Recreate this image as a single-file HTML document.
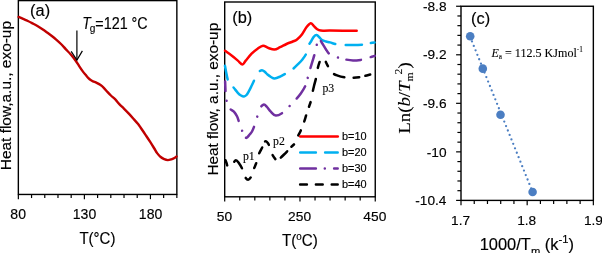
<!DOCTYPE html>
<html><head><meta charset="utf-8"><style>
html,body{margin:0;padding:0;background:#fff;}
svg{display:block;}
svg{will-change:transform}
</style></head><body>
<svg width="602" height="253" viewBox="0 0 602 253">
<rect width="602" height="253" fill="#fff"/>
<g fill="none" stroke="#000" stroke-width="1.40">
<rect x="18.35" y="0.60" width="158.50" height="193.85"/>
<g stroke-width="1.20"><line x1="18.35" y1="194.45" x2="18.35" y2="199.15"/><line x1="31.56" y1="194.45" x2="31.56" y2="198.05"/><line x1="44.77" y1="194.45" x2="44.77" y2="198.05"/><line x1="57.98" y1="194.45" x2="57.98" y2="198.05"/><line x1="71.18" y1="194.45" x2="71.18" y2="198.05"/><line x1="84.39" y1="194.45" x2="84.39" y2="199.15"/><line x1="97.60" y1="194.45" x2="97.60" y2="198.05"/><line x1="110.81" y1="194.45" x2="110.81" y2="198.05"/><line x1="124.02" y1="194.45" x2="124.02" y2="198.05"/><line x1="137.22" y1="194.45" x2="137.22" y2="198.05"/><line x1="150.43" y1="194.45" x2="150.43" y2="199.15"/><line x1="163.64" y1="194.45" x2="163.64" y2="198.05"/><line x1="176.85" y1="194.45" x2="176.85" y2="198.05"/></g>
</g>
<path d="M18.60,16.90 C19.35,17.23 21.55,18.22 23.10,18.90 C24.65,19.58 26.32,20.25 27.90,21.00 C29.48,21.75 31.02,22.57 32.60,23.40 C34.18,24.23 35.82,25.07 37.40,26.00 C38.98,26.93 40.55,27.97 42.10,29.00 C43.65,30.03 45.13,31.08 46.70,32.20 C48.27,33.32 49.92,34.47 51.50,35.70 C53.08,36.93 54.62,38.22 56.20,39.60 C57.78,40.98 59.42,42.42 61.00,44.00 C62.58,45.58 64.10,47.38 65.70,49.10 C67.30,50.82 68.97,52.40 70.60,54.30 C72.23,56.20 74.10,58.58 75.50,60.50 C76.90,62.42 77.82,64.03 79.00,65.80 C80.18,67.57 81.40,69.48 82.60,71.10 C83.80,72.72 85.23,74.33 86.20,75.50 C87.17,76.67 87.65,77.33 88.40,78.10 C89.15,78.87 89.92,79.57 90.70,80.10 C91.48,80.63 92.10,80.85 93.10,81.30 C94.10,81.75 95.52,82.22 96.70,82.80 C97.88,83.38 99.02,83.97 100.20,84.80 C101.38,85.63 102.60,86.62 103.80,87.80 C105.00,88.98 106.22,90.62 107.40,91.90 C108.58,93.18 109.58,94.25 110.90,95.50 C112.22,96.75 113.93,98.00 115.30,99.40 C116.67,100.80 117.67,102.37 119.10,103.90 C120.53,105.43 122.32,107.02 123.90,108.60 C125.48,110.18 127.02,111.72 128.60,113.40 C130.18,115.08 131.82,116.92 133.40,118.70 C134.98,120.48 136.88,122.60 138.10,124.10 C139.32,125.60 139.47,125.92 140.70,127.70 C141.93,129.48 143.92,132.43 145.50,134.80 C147.08,137.17 148.73,139.62 150.20,141.90 C151.67,144.18 153.15,146.63 154.30,148.50 C155.45,150.37 156.03,151.68 157.10,153.10 C158.17,154.52 159.52,155.98 160.70,157.00 C161.88,158.02 163.02,158.68 164.20,159.20 C165.38,159.72 166.60,160.08 167.80,160.10 C169.00,160.12 170.22,159.68 171.40,159.30 C172.58,158.92 174.03,158.28 174.90,157.80 C175.77,157.32 176.32,156.63 176.60,156.40" fill="none" stroke="#c00000" stroke-width="2.4" stroke-linejoin="round" stroke-linecap="round"/>
<g fill="none" stroke="#000" stroke-width="1.2"><line x1="76.9" y1="30.4" x2="76.9" y2="60"/><polyline points="71.2,51.3 76.9,60 82.4,50.9"/></g>
<g fill="none" stroke="#000" stroke-width="1.40">
<rect x="224.70" y="2.00" width="150.55" height="194.80"/>
<g stroke-width="1.20"><line x1="224.70" y1="196.80" x2="224.70" y2="201.50"/><line x1="239.75" y1="196.80" x2="239.75" y2="200.40"/><line x1="254.81" y1="196.80" x2="254.81" y2="200.40"/><line x1="269.87" y1="196.80" x2="269.87" y2="200.40"/><line x1="284.92" y1="196.80" x2="284.92" y2="200.40"/><line x1="299.98" y1="196.80" x2="299.98" y2="201.50"/><line x1="315.03" y1="196.80" x2="315.03" y2="200.40"/><line x1="330.08" y1="196.80" x2="330.08" y2="200.40"/><line x1="345.14" y1="196.80" x2="345.14" y2="200.40"/><line x1="360.19" y1="196.80" x2="360.19" y2="200.40"/><line x1="375.25" y1="196.80" x2="375.25" y2="201.50"/></g>
</g>
<g fill="none" stroke-width="2.5" stroke-linejoin="round" stroke-linecap="round">
<path d="M225.00,50.80 C226.15,51.62 229.77,54.07 231.90,55.70 C234.03,57.33 236.03,59.15 237.80,60.60 C239.57,62.05 241.18,64.40 242.50,64.40 C243.82,64.40 244.18,62.38 245.70,60.60 C247.22,58.82 249.62,55.67 251.60,53.70 C253.58,51.73 255.70,50.13 257.60,48.80 C259.50,47.47 261.18,45.83 263.00,45.70 C264.82,45.57 266.60,47.37 268.50,48.00 C270.40,48.63 272.47,49.63 274.40,49.50 C276.33,49.37 278.08,48.12 280.10,47.20 C282.12,46.28 284.38,44.95 286.50,44.00 C288.62,43.05 291.05,42.25 292.80,41.50 C294.55,40.75 295.48,40.67 297.00,39.50 C298.52,38.33 300.30,36.57 301.90,34.50 C303.50,32.43 305.13,28.97 306.60,27.10 C308.07,25.23 309.52,23.52 310.70,23.30 C311.88,23.08 312.67,24.85 313.70,25.80 C314.73,26.75 315.72,28.20 316.90,29.00 C318.08,29.80 318.62,30.33 320.80,30.60 C322.98,30.87 324.02,30.57 330.00,30.60 C335.98,30.63 352.25,30.77 356.70,30.80" stroke="#ff0000"/>
<path d="M224.80,64.80 C225.03,66.08 225.67,69.88 226.20,72.50 C226.73,75.12 227.28,78.50 228.00,80.50 C228.72,82.50 229.58,83.33 230.50,84.50 C231.42,85.67 232.28,86.12 233.50,87.50 C234.72,88.88 236.55,91.47 237.80,92.80 C239.05,94.13 239.97,94.88 241.00,95.50 C242.03,96.12 243.08,96.58 244.00,96.50 C244.92,96.42 245.68,95.88 246.50,95.00 C247.32,94.12 248.07,92.70 248.90,91.20 C249.73,89.70 250.58,87.90 251.50,86.00 C252.42,84.10 253.57,81.63 254.40,79.80 C255.23,77.97 255.78,76.32 256.50,75.00 C257.22,73.68 257.78,72.70 258.70,71.90 C259.62,71.10 260.95,70.18 262.00,70.20 C263.05,70.22 264.08,71.28 265.00,72.00 C265.92,72.72 266.50,73.67 267.50,74.50 C268.50,75.33 269.82,76.33 271.00,77.00 C272.18,77.67 273.08,78.57 274.60,78.50 C276.12,78.43 278.27,77.42 280.10,76.60 C281.93,75.78 284.12,74.45 285.60,73.60 C287.08,72.75 287.85,72.20 289.00,71.50 C290.15,70.80 291.00,70.62 292.50,69.40 C294.00,68.18 296.35,65.85 298.00,64.20 C299.65,62.55 301.02,61.28 302.40,59.50 C303.78,57.72 305.25,55.87 306.30,53.50 C307.35,51.13 307.92,47.30 308.70,45.30 C309.48,43.30 310.17,42.90 311.00,41.50 C311.83,40.10 312.77,37.98 313.70,36.90 C314.63,35.82 315.63,34.90 316.60,35.00 C317.57,35.10 318.60,36.67 319.50,37.50 C320.40,38.33 320.92,39.33 322.00,40.00 C323.08,40.67 324.67,41.10 326.00,41.50 C327.33,41.90 328.35,41.95 330.00,42.40 C331.65,42.85 334.23,43.80 335.90,44.20 C337.57,44.60 338.62,44.67 340.00,44.80 C341.38,44.93 342.03,44.97 344.20,45.00 C346.37,45.03 349.93,45.07 353.00,45.00 C356.07,44.93 360.43,44.77 362.60,44.60 C364.77,44.43 364.85,44.22 366.00,44.00 C367.15,43.78 367.97,43.58 369.50,43.30 C371.03,43.02 374.25,42.47 375.20,42.30" stroke="#00b0f0" stroke-dasharray="13.53 10.29 33.10 11.56 28.78 10.59 18.57 11.17 32.98 10.75 15.91 9.32 3.49 1001.25" stroke-dashoffset="-1.25"/>
<path d="M225.10,80.50 C225.13,81.42 225.22,84.02 225.30,86.00 C225.38,87.98 225.38,89.93 225.60,92.40 C225.82,94.87 226.20,98.70 226.60,100.80 C227.00,102.90 227.47,103.68 228.00,105.00 C228.53,106.32 228.82,107.60 229.80,108.70 C230.78,109.80 232.70,110.33 233.90,111.60 C235.10,112.87 236.13,114.53 237.00,116.30 C237.87,118.07 238.25,119.82 239.10,122.20 C239.95,124.58 241.20,128.25 242.10,130.60 C243.00,132.95 243.77,135.10 244.50,136.30 C245.23,137.50 245.63,138.10 246.50,137.80 C247.37,137.50 248.78,135.55 249.70,134.50 C250.62,133.45 251.22,132.95 252.00,131.50 C252.78,130.05 253.53,128.25 254.40,125.80 C255.27,123.35 256.18,119.82 257.20,116.80 C258.22,113.78 259.38,109.77 260.50,107.70 C261.62,105.63 262.82,104.52 263.90,104.40 C264.98,104.28 265.85,105.78 267.00,107.00 C268.15,108.22 269.33,110.27 270.80,111.70 C272.27,113.13 273.82,115.43 275.80,115.60 C277.78,115.77 280.45,114.25 282.70,112.70 C284.95,111.15 287.17,108.45 289.30,106.30 C291.43,104.15 293.58,101.93 295.50,99.80 C297.42,97.67 299.13,95.87 300.80,93.50 C302.47,91.13 304.37,88.13 305.50,85.60 C306.63,83.07 306.85,80.98 307.60,78.30 C308.35,75.62 308.85,73.47 310.00,69.50 C311.15,65.53 313.40,58.53 314.50,54.50 C315.60,50.47 315.93,47.63 316.60,45.30 C317.27,42.97 317.97,41.45 318.50,40.50 C319.03,39.55 319.22,39.18 319.80,39.60 C320.38,40.02 320.97,41.35 322.00,43.00 C323.03,44.65 324.80,47.70 326.00,49.50 C327.20,51.30 328.03,52.72 329.20,53.80 C330.37,54.88 331.62,55.40 333.00,56.00 C334.38,56.60 335.55,56.85 337.50,57.40 C339.45,57.95 342.12,58.78 344.70,59.30 C347.28,59.82 350.20,60.42 353.00,60.50 C355.80,60.58 359.50,60.05 361.50,59.80 C363.50,59.55 363.73,59.37 365.00,59.00 C366.27,58.63 367.40,58.15 369.10,57.60 C370.80,57.05 374.18,56.02 375.20,55.70" stroke="#7030a0" stroke-dasharray="9.41 9.71 0.01 9.82 14.46 10.17 0.01 8.31 13.99 10.68 0.01 10.93 26.71 10.46 0.01 10.22 14.94 8.86 0.01 10.36 13.16 10.69 0.01 8.31 14.57 10.38 0.01 8.69 14.43 10.43 3.89 1001.25" stroke-dashoffset="-1.25"/>
<path d="M225.10,159.20 C225.33,159.83 226.07,161.80 226.50,163.00 C226.93,164.20 227.07,165.68 227.70,166.40 C228.33,167.12 229.35,167.90 230.30,167.30 C231.25,166.70 232.47,163.97 233.40,162.80 C234.33,161.63 235.05,160.35 235.90,160.30 C236.75,160.25 237.42,161.02 238.50,162.50 C239.58,163.98 241.33,166.85 242.40,169.20 C243.47,171.55 243.95,174.83 244.90,176.60 C245.85,178.37 247.05,179.80 248.10,179.80 C249.15,179.80 250.28,178.32 251.20,176.60 C252.12,174.88 252.72,171.87 253.60,169.50 C254.48,167.13 255.67,164.87 256.50,162.40 C257.33,159.93 257.60,157.30 258.60,154.70 C259.60,152.10 261.62,148.83 262.50,146.80 C263.38,144.77 263.33,143.42 263.90,142.50 C264.47,141.58 265.25,141.22 265.90,141.30 C266.55,141.38 267.25,142.25 267.80,143.00 C268.35,143.75 268.53,144.02 269.20,145.80 C269.87,147.58 270.70,151.40 271.80,153.70 C272.90,156.00 274.80,158.55 275.80,159.60 C276.80,160.65 277.15,160.15 277.80,160.00 C278.45,159.85 278.75,159.53 279.70,158.70 C280.65,157.87 282.18,156.32 283.50,155.00 C284.82,153.68 286.48,152.00 287.60,150.80 C288.72,149.60 289.05,148.97 290.20,147.80 C291.35,146.63 293.28,145.60 294.50,143.80 C295.72,142.00 296.40,139.33 297.50,137.00 C298.60,134.67 300.07,132.12 301.10,129.80 C302.13,127.48 302.83,125.60 303.70,123.10 C304.57,120.60 305.52,117.25 306.30,114.80 C307.08,112.35 307.65,110.63 308.40,108.40 C309.15,106.17 310.15,103.88 310.80,101.40 C311.45,98.92 311.77,96.07 312.30,93.50 C312.83,90.93 313.38,88.55 314.00,86.00 C314.62,83.45 315.43,80.93 316.00,78.20 C316.57,75.47 316.75,72.43 317.40,69.60 C318.05,66.77 319.05,63.38 319.90,61.20 C320.75,59.02 321.65,56.65 322.50,56.50 C323.35,56.35 324.05,58.62 325.00,60.30 C325.95,61.98 326.97,64.50 328.20,66.60 C329.43,68.70 330.82,71.40 332.40,72.90 C333.98,74.40 335.63,74.87 337.70,75.60 C339.77,76.33 342.47,76.95 344.80,77.30 C347.13,77.65 349.23,77.73 351.70,77.70 C354.17,77.67 357.62,77.33 359.60,77.10 C361.58,76.87 361.78,76.75 363.60,76.30 C365.42,75.85 369.35,74.72 370.50,74.40" stroke="#000" stroke-dasharray="5.18 11.00 12.42 10.32 6.82 10.00 5.17 10.49 6.31 7.03 5.71 10.82 4.65 7.08 8.67 6.47 3.39 9.94 5.55 9.69 6.20 9.24 4.90 11.48 12.31 11.22 6.06 12.90 4.57 10.10 10.81 9.42 5.43 6.58 4.66 1001.25" stroke-dashoffset="-1.25"/>
<line x1="300.2" y1="136.5" x2="337.8" y2="136.5" stroke="#ff0000"/>
<line x1="300.2" y1="152.5" x2="337.7" y2="152.5" stroke="#00b0f0" stroke-dasharray="15.7 9.2"/>
<line x1="300.2" y1="168.4" x2="337.7" y2="168.4" stroke="#7030a0" stroke-dasharray="15.7 8.9 0.01 9.3 20"/>
<line x1="300.1" y1="184.4" x2="337.7" y2="184.4" stroke="#000" stroke-dasharray="6.8 9"/>
</g>
<g fill="none" stroke="#000" stroke-width="1.40">
<rect x="461.00" y="6.25" width="132.35" height="194.15"/>
<g stroke-width="1.20"><line x1="461.00" y1="200.40" x2="461.00" y2="205.20"/><line x1="474.24" y1="200.40" x2="474.24" y2="204.00"/><line x1="487.47" y1="200.40" x2="487.47" y2="204.00"/><line x1="500.71" y1="200.40" x2="500.71" y2="204.00"/><line x1="513.94" y1="200.40" x2="513.94" y2="204.00"/><line x1="527.17" y1="200.40" x2="527.17" y2="205.20"/><line x1="540.41" y1="200.40" x2="540.41" y2="204.00"/><line x1="553.64" y1="200.40" x2="553.64" y2="204.00"/><line x1="566.88" y1="200.40" x2="566.88" y2="204.00"/><line x1="580.12" y1="200.40" x2="580.12" y2="204.00"/><line x1="593.35" y1="200.40" x2="593.35" y2="205.20"/></g>
<g stroke-width="1.20"><line x1="461.00" y1="6.25" x2="456.10" y2="6.25"/><line x1="461.00" y1="15.96" x2="457.40" y2="15.96"/><line x1="461.00" y1="25.66" x2="457.40" y2="25.66"/><line x1="461.00" y1="35.37" x2="457.40" y2="35.37"/><line x1="461.00" y1="45.08" x2="457.40" y2="45.08"/><line x1="461.00" y1="54.79" x2="456.10" y2="54.79"/><line x1="461.00" y1="64.50" x2="457.40" y2="64.50"/><line x1="461.00" y1="74.20" x2="457.40" y2="74.20"/><line x1="461.00" y1="83.91" x2="457.40" y2="83.91"/><line x1="461.00" y1="93.62" x2="457.40" y2="93.62"/><line x1="461.00" y1="103.32" x2="456.10" y2="103.32"/><line x1="461.00" y1="113.03" x2="457.40" y2="113.03"/><line x1="461.00" y1="122.74" x2="457.40" y2="122.74"/><line x1="461.00" y1="132.45" x2="457.40" y2="132.45"/><line x1="461.00" y1="142.16" x2="457.40" y2="142.16"/><line x1="461.00" y1="151.86" x2="456.10" y2="151.86"/><line x1="461.00" y1="161.57" x2="457.40" y2="161.57"/><line x1="461.00" y1="171.28" x2="457.40" y2="171.28"/><line x1="461.00" y1="180.98" x2="457.40" y2="180.98"/><line x1="461.00" y1="190.69" x2="457.40" y2="190.69"/><line x1="461.00" y1="200.40" x2="456.10" y2="200.40"/></g>
</g>
<line x1="470.2" y1="37" x2="531.8" y2="190" stroke="#4b7ec2" stroke-width="2.3" stroke-linecap="round" stroke-dasharray="0 4.8"/>
<g fill="#4b7ec2"><circle cx="470.20" cy="36.20" r="4.3"/><circle cx="482.80" cy="68.65" r="4.3"/><circle cx="500.50" cy="114.75" r="4.3"/><circle cx="532.60" cy="192.00" r="4.3"/></g>
<g fill="#000" stroke="#000" stroke-width="0.15">
<text id="ta" transform="translate(30.103,16.120) scale(1.0117,1)" font-family='"Liberation Sans", sans-serif' font-size="16.184">(a)</text>
<text id="tb" transform="translate(232.211,22.702) scale(1.0117,1)" font-family='"Liberation Sans", sans-serif' font-size="16.184">(b)</text>
<text id="tc" transform="translate(471.106,23.547) scale(1.0117,1)" font-family='"Liberation Sans", sans-serif' font-size="16.184">(c)</text>
<text id="tgT" transform="translate(82.248,28.968) scale(0.8846,1)" font-family='"Liberation Sans", sans-serif' font-size="15.715" font-style="italic">T</text>
<text id="tgg" transform="translate(89.680,32.182) scale(0.8807,1)" font-family='"Liberation Sans", sans-serif' font-size="11.502">g</text>
<text id="tgr" transform="translate(95.291,28.878) scale(0.9108,1)" font-family='"Liberation Sans", sans-serif' font-size="15.772">=121 °C</text>
<text id="a80" transform="translate(10.356,218.805) scale(1.0097,1)" font-family='"Liberation Sans", sans-serif' font-size="13.915">80</text>
<text id="a130" transform="translate(72.791,218.770) scale(1.0097,1)" font-family='"Liberation Sans", sans-serif' font-size="13.915">130</text>
<text id="a180" transform="translate(138.845,218.770) scale(1.0097,1)" font-family='"Liberation Sans", sans-serif' font-size="13.915">180</text>
<text id="axa" transform="translate(79.438,244.324) scale(0.8972,1)" font-family='"Liberation Sans", sans-serif' font-size="16.751">T(°C)</text>
<text id="yla" transform="translate(11.336,170.219) rotate(-90) scale(1.0788,1)" font-family='"Liberation Sans", sans-serif' font-size="14.316">Heat flow,a.u., exo-up</text>
<text id="b50" transform="translate(216.789,220.631) scale(1.0340,1)" font-family='"Liberation Sans", sans-serif' font-size="13.330">50</text>
<text id="b250" transform="translate(288.101,220.631) scale(1.0340,1)" font-family='"Liberation Sans", sans-serif' font-size="13.330">250</text>
<text id="b450" transform="translate(363.357,220.631) scale(1.0340,1)" font-family='"Liberation Sans", sans-serif' font-size="13.330">450</text>
<text id="axb" transform="translate(282.036,246.415) scale(0.9471,1)" font-family='"Liberation Sans", sans-serif' font-size="16.026">T(<tspan font-size="10.42" dy="-6.09">o</tspan><tspan dy="6.09">C)</tspan></text>
<text id="ylb" transform="translate(217.710,175.594) rotate(-90) scale(1.0606,1)" font-family='"Liberation Sans", sans-serif' font-size="14.494">Heat flow, a.u., exo-up</text>
<text id="l10" transform="translate(342.030,139.892) scale(0.9917,1)" font-family='"Liberation Sans", sans-serif' font-size="11.018">b=10</text>
<text id="l20" transform="translate(342.030,155.892) scale(0.9917,1)" font-family='"Liberation Sans", sans-serif' font-size="11.018">b=20</text>
<text id="l30" transform="translate(342.030,171.966) scale(0.9917,1)" font-family='"Liberation Sans", sans-serif' font-size="11.018">b=30</text>
<text id="l40" transform="translate(342.030,187.869) scale(0.9917,1)" font-family='"Liberation Sans", sans-serif' font-size="11.018">b=40</text>
<text stroke-width="0.1" id="p1" transform="translate(242.916,159.574) scale(0.9755,1)" font-family='"Liberation Serif", serif' font-size="12.136">p1</text>
<text stroke-width="0.1" id="p2" transform="translate(272.977,144.977) scale(0.9755,1)" font-family='"Liberation Serif", serif' font-size="12.136">p2</text>
<text stroke-width="0.1" id="p3" transform="translate(322.437,91.574) scale(0.9755,1)" font-family='"Liberation Serif", serif' font-size="12.136">p3</text>
<text id="c88" transform="translate(422.972,10.534) scale(1.0060,1)" font-family='"Liberation Sans", sans-serif' font-size="13.608">-8.8</text>
<text id="c92" transform="translate(422.966,59.077) scale(1.0060,1)" font-family='"Liberation Sans", sans-serif' font-size="13.608">-9.2</text>
<text id="c96" transform="translate(422.972,107.896) scale(1.0060,1)" font-family='"Liberation Sans", sans-serif' font-size="13.608">-9.6</text>
<text id="c100" transform="translate(426.754,156.575) scale(1.0060,1)" font-family='"Liberation Sans", sans-serif' font-size="13.608">-10</text>
<text id="c104" transform="translate(415.249,204.921) scale(1.0060,1)" font-family='"Liberation Sans", sans-serif' font-size="13.608">-10.4</text>
<text id="c17" transform="translate(451.104,224.803) scale(1.0060,1)" font-family='"Liberation Sans", sans-serif' font-size="13.608">1.7</text>
<text id="c18" transform="translate(517.210,224.826) scale(1.0060,1)" font-family='"Liberation Sans", sans-serif' font-size="13.608">1.8</text>
<text id="c19" transform="translate(583.976,224.826) scale(1.0060,1)" font-family='"Liberation Sans", sans-serif' font-size="13.608">1.9</text>
<text id="axc" transform="translate(479.660,249.850) scale(1.0295,1)" font-family='"Liberation Sans", sans-serif' font-size="16.000">1000/T<tspan font-size="10.88" dy="4.80">m</tspan><tspan dy="-4.80"> (k</tspan><tspan font-size="10.88" dy="-6.72">-1</tspan><tspan dy="6.72">)</tspan></text>
<text stroke-width="0.1" id="ea" transform="translate(491.431,57.212) scale(1.0097,1)" font-family='"Liberation Serif", serif' font-size="11.969"><tspan font-style="italic">E</tspan><tspan font-size="7.18" dy="1.44">a</tspan><tspan dy="-1.44"> = 112.5 KJmol</tspan><tspan font-size="7.18" dy="-5.39">-1</tspan></text>
<text stroke-width="0.1" id="ylc" transform="translate(409.816,133.779) rotate(-90) scale(1.0808,1)" font-family='"Liberation Serif", serif' font-size="17.459">Ln(<tspan font-style="italic">b</tspan>/<tspan font-style="italic">T</tspan><tspan font-size="10.82" dy="3.49">m</tspan><tspan font-size="10.82" dx="-1.92" dy="-10.82">2</tspan><tspan dx="0.00" dy="7.33">)</tspan></text>
</g>
</svg>
</body></html>
